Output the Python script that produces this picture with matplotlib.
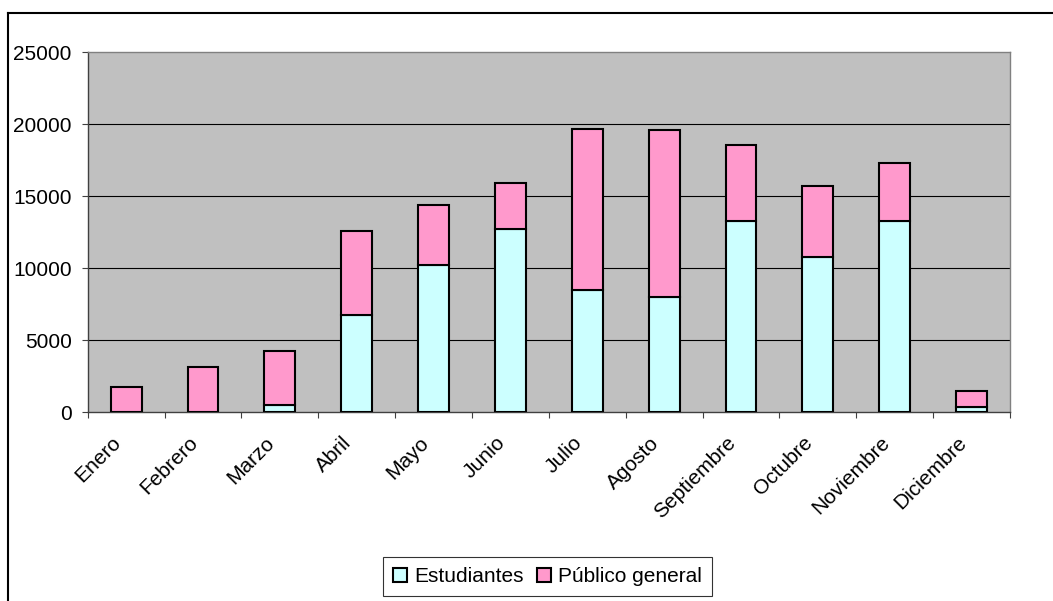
import matplotlib
matplotlib.use("Agg")
import matplotlib.pyplot as plt
from matplotlib.lines import Line2D
from matplotlib.transforms import ScaledTranslation
import numpy as np

months = ["Enero", "Febrero", "Marzo", "Abril", "Mayo", "Junio", "Julio",
          "Agosto", "Septiembre", "Octubre", "Noviembre", "Diciembre"]
estudiantes = [0, 0, 530, 6780, 10250, 12750, 8470, 8030, 13310, 10810, 13310, 390]
totales = [1780, 3170, 4280, 12620, 14420, 15950, 19700, 19580, 18590, 15690, 17340, 1500]
publico = [t - e for t, e in zip(totales, estudiantes)]
yticks = [0, 5000, 10000, 15000, 20000, 25000]
series_names = ["Estudiantes", "Público general"]

plt.rcParams['font.family'] = ['Liberation Sans', 'DejaVu Sans']

W, H, DPI = 1053, 601, 100
fig = plt.figure(figsize=(W / DPI, H / DPI), dpi=DPI)
fig.patch.set_facecolor('white')

# outer chart frame (only top and left visible)
fig.add_artist(Line2D([7.5 / W, 1.0], [1 - 12.5 / H, 1 - 12.5 / H],
                      transform=fig.transFigure, color='black', lw=1.5))
fig.add_artist(Line2D([7.5 / W, 7.5 / W], [1 - 12.5 / H, 0.0],
                      transform=fig.transFigure, color='black', lw=1.5))

left, right, top, bottom = 87.7, 1010, 52.3, 412.3
ax = fig.add_axes([left / W, 1 - bottom / H, (right - left) / W, (bottom - top) / H])
ax.set_facecolor('#C0C0C0')

x = np.arange(len(months))
bw = 0.4
c_est = '#CCFFFF'
c_pub = '#FF99CC'
b1 = ax.bar(x, estudiantes, bw, color=c_est, edgecolor='black', linewidth=1.5,
            zorder=3, label=series_names[0])
b2 = ax.bar(x, publico, bw, bottom=estudiantes, color=c_pub, edgecolor='black',
            linewidth=1.5, zorder=3, label=series_names[1])

ax.set_xlim(-0.5, len(months) - 0.5)
ax.set_ylim(0, 25000)
ax.set_yticks(yticks)
ax.set_yticklabels([str(v) for v in yticks], fontsize=15)
for v in yticks[1:-1]:
    ax.axhline(v, color='black', lw=0.8, zorder=1)

ax.tick_params(axis='y', direction='out', length=4.3, width=0.8, pad=7.2, color='#404040')
ax.set_xticks(x)
ax.set_xticklabels(months, fontsize=15, rotation=45, ha='right', va='center',
                   rotation_mode='anchor')
ax.tick_params(axis='x', which='major', length=0, pad=20)
ax.set_xticks(np.arange(-0.5, len(months), 1.0), minor=True)
ax.tick_params(axis='x', which='minor', direction='out', length=4.3, width=0.8, color='#404040')
off = ScaledTranslation(-8 / DPI, 0, fig.dpi_scale_trans)
for lab in ax.get_xticklabels():
    lab.set_transform(lab.get_transform() + off)

ax.spines['left'].set_color('#404040')
ax.spines['bottom'].set_color('#404040')
ax.spines['top'].set_color('#808080')
ax.spines['right'].set_color('#808080')
for s in ax.spines.values():
    s.set_linewidth(1.0)

leg = fig.legend(handles=[b1, b2], labels=series_names, loc='center',
                 bbox_to_anchor=(547.5 / W, 1 - 576.5 / H), ncol=2, fontsize=15,
                 frameon=True, fancybox=False, shadow=False, handlelength=0.67,
                 handleheight=0.67, handletextpad=0.35, columnspacing=0.6,
                 borderpad=0.5, borderaxespad=0)
leg.get_frame().set_edgecolor('black')
leg.get_frame().set_linewidth(0.8)

fig.savefig('out.png', dpi=DPI, facecolor='white')
